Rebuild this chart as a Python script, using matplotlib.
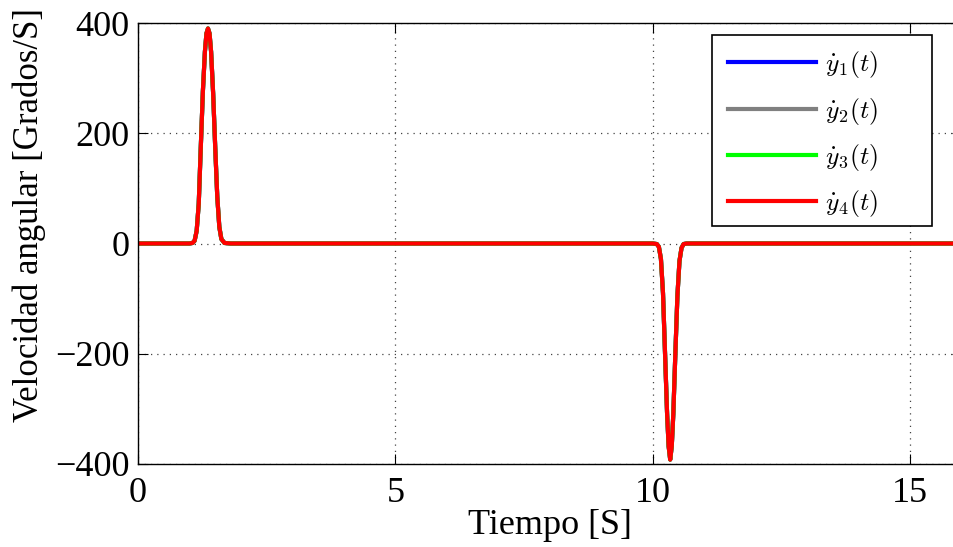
import matplotlib
matplotlib.use("Agg")
import matplotlib.pyplot as plt
from matplotlib.patches import Rectangle

plt.rcParams['mathtext.fontset'] = 'cm'
plt.rcParams['font.family'] = ['Liberation Serif', 'DejaVu Serif']

# Time samples [s]
t = [0.0, 1.00, 1.06, 1.10, 1.14, 1.18, 1.22, 1.26, 1.30, 1.33, 1.36, 1.39, 1.42,
     1.46, 1.50, 1.54, 1.58, 1.62, 1.68, 1.80,
     10.00, 10.08, 10.12, 10.16, 10.20, 10.24, 10.28, 10.31, 10.34, 10.37, 10.40,
     10.44, 10.48, 10.52, 10.56, 10.60, 10.66, 10.80, 16.0]

# Angular velocity [deg/s]
y1 = [0, 0, 1, 5, 23, 72, 175, 275, 348, 381, 390, 381, 348,
      272, 175, 85, 30, 8, 1, 0,
      0, -1, -6, -28, -90, -200, -310, -368, -392, -368, -310,
      -200, -95, -32, -8, -1, 0, 0, 0]
y2 = list(y1)
y3 = list(y1)
y4 = list(y1)

labels = [r'$\dot{y}_1(t)$', r'$\dot{y}_2(t)$', r'$\dot{y}_3(t)$', r'$\dot{y}_4(t)$']
colors = ['#0000ff', '#808080', '#00ff00', '#ff0000']
xticks = [0, 5, 10, 15]
yticks = [-400, -200, 0, 200, 400]

fig = plt.figure(figsize=(9.54, 5.47), dpi=100)
ax = fig.add_axes([138/954, 1-464/547, (16*51.47)/954, (464-23)/547])

for ys, lab, c in zip([y1, y2, y3, y4], labels, colors):
    ax.plot(t, ys, color=c, lw=3.0, label=lab)

ax.set_xlim(0, 16)
ax.set_ylim(-400, 400)
ax.set_xticks(xticks)
ax.set_yticks(yticks)
ax.set_yticklabels([str(v).replace('-', '\u2212') for v in yticks])
ax.grid(True, color='#444444', linestyle=(0, (1, 4)), lw=0.9)
ax.tick_params(direction='in', length=7, width=0.8, top=True, right=True,
               labelsize=26)
ax.tick_params(axis='x', pad=9)
ax.tick_params(axis='y', pad=6)
for s in ax.spines.values():
    s.set_linewidth(1.0)

ax.set_xlabel('Tiempo [S]', fontsize=26, labelpad=0)
ax.set_ylabel('Velocidad angular [Grados/S]', fontsize=25)
ax.yaxis.set_label_coords((29-138)/(16*51.47), (464-215)/441)
ax.yaxis.label.set_va('center')

# Legend frame (MATLAB-style wide box)
frame = Rectangle((712/954, 1-226/547), 220/954, 191/547,
                  transform=fig.transFigure, facecolor='white',
                  edgecolor='black', lw=1.2, zorder=4.9, clip_on=False)
ax.add_artist(frame)

leg = ax.legend(loc='upper left', bbox_to_anchor=(714/954, 1-35/547),
                bbox_transform=fig.transFigure, borderaxespad=0,
                fontsize=18.5, handlelength=3.42, handletextpad=0.35,
                labelspacing=0.6, frameon=False, borderpad=0.55)
leg.set_zorder(5)
for line in leg.get_lines():
    line.set_linewidth(3)

fig.savefig('out.png', dpi=100)
